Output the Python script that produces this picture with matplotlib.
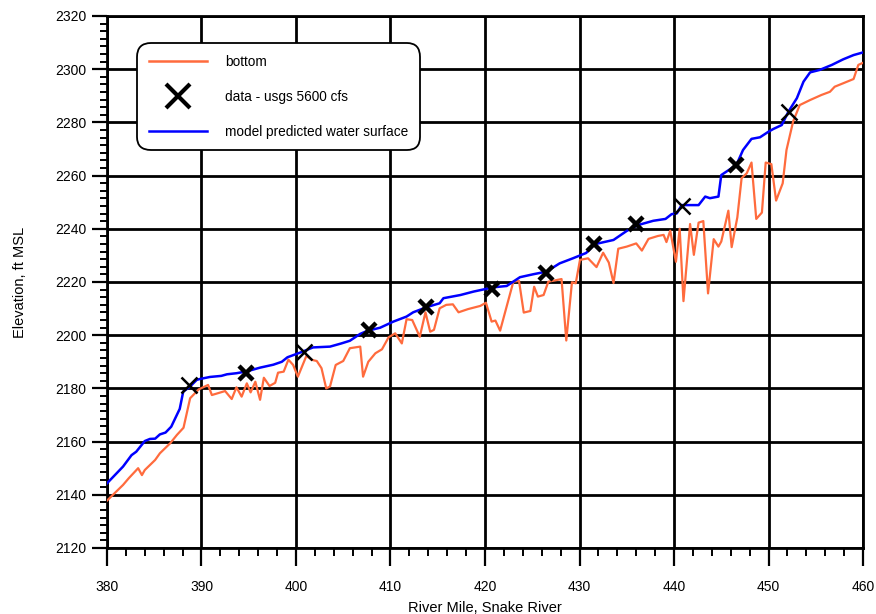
import matplotlib
matplotlib.use("Agg")
import matplotlib.pyplot as plt
from matplotlib.ticker import MultipleLocator
from matplotlib.lines import Line2D
from matplotlib import font_manager

# ---------------- data ----------------
bottom_mile = [380.0, 381.7, 382.3, 383.3, 383.7, 384.0, 385.1, 385.6, 386.7, 387.4,
               388.1, 388.8, 389.7, 390.7, 391.1, 392.5, 393.2, 393.7, 394.25, 394.8,
               395.2, 395.7, 396.2, 396.6, 397.2, 397.8, 398.1, 398.7, 399.2, 399.7,
               400.2, 401.1, 401.7, 402.2, 402.7, 403.2, 403.6, 404.2, 405.0, 405.7,
               406.8, 407.1, 407.65, 408.4, 409.1, 409.8, 410.5, 411.2, 411.7, 412.3,
               413.1, 413.7, 414.2, 414.6, 415.2, 415.9, 416.6, 417.2, 418.2, 419.5,
               420.1, 420.7, 421.1, 421.6, 423.0, 423.6, 424.1, 424.8, 425.2, 425.6,
               426.2, 426.7, 428.1, 428.6, 429.2, 429.6, 430.05, 430.9, 431.8, 432.5,
               433.1, 433.6, 434.1, 435.0, 436.0, 436.6, 437.3, 438.3, 438.9, 439.2,
               439.6, 440.2, 440.6, 441.0, 441.7, 442.1, 442.6, 443.1, 443.6, 444.2,
               444.7, 445.0, 445.75, 446.1, 446.7, 447.15, 447.7, 448.2, 448.7, 449.3,
               449.7, 450.3, 450.8, 451.5, 451.9, 452.6, 453.3, 454.4, 455.6, 456.5,
               457.0, 457.9, 459.0, 459.5, 460.0]
bottom_elev = [2137.8, 2143.7, 2146.2, 2150.0, 2147.4, 2149.3, 2153.1, 2155.6, 2159.4, 2162.5,
               2165.2, 2176.3, 2179.6, 2181.3, 2177.5, 2179.0, 2176.0, 2180.4, 2176.9, 2181.9,
               2178.5, 2182.5, 2175.7, 2184.0, 2180.9, 2182.1, 2185.9, 2186.3, 2190.8, 2188.8,
               2184.4, 2192.2, 2190.7, 2190.3, 2187.6, 2180.0, 2180.7, 2188.8, 2190.3, 2195.1,
               2195.7, 2184.4, 2190.0, 2193.2, 2194.7, 2199.2, 2200.7, 2196.9, 2206.0, 2205.7,
               2199.4, 2208.6, 2201.3, 2202.0, 2210.1, 2211.4, 2211.6, 2208.6, 2209.8, 2211.0,
               2212.2, 2205.1, 2205.5, 2201.7, 2220.1, 2220.4, 2208.5, 2209.1, 2218.2, 2214.5,
               2215.1, 2220.1, 2221.1, 2198.0, 2219.9, 2219.5, 2228.3, 2228.9, 2225.6, 2231.0,
               2227.3, 2219.6, 2232.5, 2233.3, 2234.5, 2231.8, 2236.2, 2237.3, 2237.7, 2235.0,
               2239.3, 2227.6, 2240.0, 2212.8, 2241.8, 2230.2, 2242.3, 2242.9, 2215.7, 2236.1,
               2233.3, 2235.2, 2246.8, 2233.1, 2244.3, 2259.0, 2260.9, 2264.9, 2243.7, 2246.1,
               2264.9, 2264.3, 2250.6, 2257.1, 2269.6, 2280.3, 2286.5, 2288.4, 2290.3, 2291.5,
               2293.4, 2294.7, 2296.3, 2301.6, 2302.4]

ws_mile = [380.0, 381.7, 382.6, 383.1, 384.0, 384.55, 385.1, 385.6, 386.2, 386.8,
           387.7, 388.07, 388.7, 389.5, 389.8, 390.9, 392.1, 392.7, 393.7, 394.8,
           396.2, 397.6, 398.5, 399.1, 400.4, 401.8, 403.6, 404.8, 405.7, 406.8,
           407.6, 408.9, 410.3, 411.7, 412.4, 413.8, 415.2, 415.6, 417.4, 418.8,
           420.9, 422.3, 423.7, 425.1, 426.5, 427.9, 429.3, 430.7, 431.6, 433.6,
           435.0, 436.2, 437.8, 439.1, 439.75, 440.3, 440.8, 442.6, 443.3, 443.8,
           444.7, 445.0, 446.6, 447.3, 448.2, 449.1, 450.0, 450.5, 451.4, 452.1,
           453.0, 453.7, 454.4, 455.4, 456.7, 457.9, 459.0, 459.9]
ws_elev = [2144.3, 2150.6, 2154.9, 2156.2, 2160.2, 2161.0, 2161.1, 2162.7, 2163.4, 2165.6,
           2172.3, 2178.8, 2180.4, 2183.2, 2183.5, 2184.3, 2184.7, 2185.3, 2185.7, 2186.4,
           2187.8, 2188.9, 2190.0, 2191.7, 2193.4, 2195.4, 2195.7, 2196.9, 2197.9, 2200.5,
           2201.7, 2202.8, 2205.1, 2207.0, 2208.6, 2210.5, 2212.0, 2213.9, 2215.1, 2216.4,
           2218.0, 2218.5, 2221.8, 2222.9, 2223.9, 2227.0, 2228.9, 2230.9, 2234.2, 2235.8,
           2239.2, 2241.4, 2243.0, 2243.7, 2245.5, 2245.8, 2248.9, 2248.9, 2252.1, 2251.5,
           2252.1, 2260.2, 2264.0, 2269.6, 2273.8, 2274.4, 2276.5, 2277.5, 2279.0, 2284.0,
           2289.1, 2295.3, 2298.8, 2299.7, 2301.6, 2303.7, 2305.3, 2306.2]

usgs_mile = [388.7, 394.7, 400.85, 407.7, 413.75, 420.7, 426.45, 431.5, 435.98, 440.85, 446.56, 452.2]
usgs_elev = [2181.3, 2185.8, 2193.7, 2202.0, 2210.6, 2217.4, 2223.4, 2234.3, 2241.8, 2248.6, 2264.0, 2283.9]
usgs_bold = [False, True, False, True, True, True, True, True, True, False, True, False]

x_ticks = [380, 390, 400, 410, 420, 430, 440, 450, 460]
y_ticks = [2120, 2140, 2160, 2180, 2200, 2220, 2240, 2260, 2280, 2300, 2320]

# ---------------- style ----------------
names = {f.name for f in font_manager.fontManager.ttflist}
fam = 'Liberation Sans Narrow' if 'Liberation Sans Narrow' in names else 'Liberation Sans'
plt.rcParams['font.family'] = [fam, 'DejaVu Sans']

bottom_color = '#FF6B3D'
ws_color = '#0000FF'

fig = plt.figure(figsize=(8.76, 6.14), dpi=100)
ax = fig.add_axes([0.1221, 0.1075, 0.8631, 0.8665])

ax.plot(bottom_mile, bottom_elev, color=bottom_color, lw=1.6, zorder=3)
ax.plot(ws_mile, ws_elev, color=ws_color, lw=1.8, zorder=4)
for xm, ym, b in zip(usgs_mile, usgs_elev, usgs_bold):
    ax.plot([xm], [ym], linestyle='none', marker='x', color='black',
            markersize=10 if b else 11, mew=3.2 if b else 1.8, zorder=5)

ax.set_xlim(380, 460)
ax.set_ylim(2120, 2320)
ax.set_xticks(x_ticks)
ax.set_yticks(y_ticks)
ax.xaxis.set_minor_locator(MultipleLocator(2))
ax.yaxis.set_minor_locator(MultipleLocator(20 / 7))

ax.grid(True, which='major', color='black', lw=2.0, zorder=1)
for s in ax.spines.values():
    s.set_linewidth(2.0)
    s.set_color('black')

ax.tick_params(axis='x', which='major', direction='out', length=13, width=1.6,
               labelsize=10, pad=10)
ax.tick_params(axis='x', which='minor', direction='out', length=6, width=1.4)
ax.tick_params(axis='y', which='major', direction='out', length=11, width=1.6,
               labelsize=10, pad=4)
ax.tick_params(axis='y', which='minor', direction='out', length=5, width=1.4)

ax.set_xlabel('River Mile, Snake River', fontsize=10.5, labelpad=5)
ax.set_ylabel('Elevation, ft MSL', fontsize=10.5, labelpad=20)

handles = [Line2D([], [], color=bottom_color, lw=1.8),
           Line2D([], [], linestyle='none', marker='x', color='black', markersize=17, mew=3),
           Line2D([], [], color=ws_color, lw=1.8)]
labels = ['bottom', 'data - usgs 5600 cfs', 'model predicted water surface']
leg = ax.legend(handles, labels, loc='upper left', bbox_to_anchor=(0.0397, 0.949),
                borderaxespad=0, fontsize=9.8, handlelength=4.3, handletextpad=1.35,
                labelspacing=1.55, borderpad=0.85, fancybox=True, framealpha=1,
                edgecolor='black')
leg.get_frame().set_linewidth(1.3)
leg.get_frame().set_boxstyle('round', pad=0.0, rounding_size=1.0)
leg.set_zorder(10)

fig.savefig('out.png', dpi=100)
